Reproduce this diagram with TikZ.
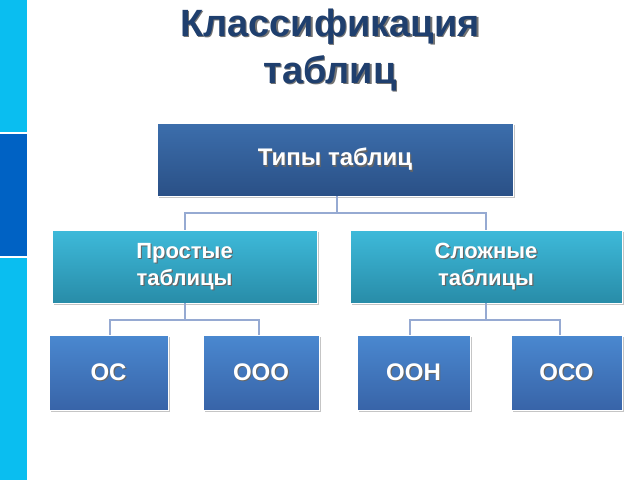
\documentclass[tikz,border=0pt]{standalone}
\usepackage{fontspec}
\setmainfont{Liberation Sans}
\usetikzlibrary{shadows}
\definecolor{titc}{RGB}{31,63,110}
\definecolor{topA}{RGB}{60,110,172}
\definecolor{topB}{RGB}{42,80,134}
\definecolor{midA}{RGB}{62,186,218}
\definecolor{midB}{RGB}{40,140,168}
\definecolor{botA}{RGB}{74,136,208}
\definecolor{botB}{RGB}{56,100,168}
\definecolor{stripL}{RGB}{10,190,240}
\definecolor{stripD}{RGB}{0,98,196}
\definecolor{lnkc}{RGB}{150,170,210}
\begin{document}
\begin{tikzpicture}[x=1pt,y=-1pt,
  box/.style={draw=white,line width=0.6pt,inner sep=0pt,drop shadow={shadow xshift=1.5pt,shadow yshift=-1.5pt,fill=black!45}},
  lnk/.style={draw=lnkc,line width=1.2pt}]
\useasboundingbox (0,0) rectangle (640,480);
\fill[white] (0,0) rectangle (640,480);
\fill[stripL] (0,0) rectangle (27,480);
\fill[stripD] (0,133) rectangle (27,257);
\fill[white] (0,132) rectangle (27,134);
\fill[white] (0,256) rectangle (27,258);
% title
\node[text=black!55,font=\bfseries\fontsize{38}{47}\selectfont,align=center] (tsh) at (331.5,51.5) {Классификация\\таблиц};
\node[text=titc,font=\bfseries\fontsize{38}{47}\selectfont,align=center] (title) at (330,50) {Классификация\\таблиц};
% boxes
\newcommand\mkbox[7]{%
 \node[box,minimum width=#3-#1,minimum height=#4-#2,top color=#5,bottom color=#6] (#7) at ({(#1+#3)/2},{(#2+#4)/2}) {};}
\mkbox{157}{123}{513}{196}{topA}{topB}{top}
\mkbox{52}{230}{317}{303}{midA}{midB}{ml}
\mkbox{350}{230}{622}{303}{midA}{midB}{mr}
\mkbox{49}{335}{168}{410}{botA}{botB}{b1}
\mkbox{203}{335}{319}{410}{botA}{botB}{b2}
\mkbox{357}{335}{470}{410}{botA}{botB}{b3}
\mkbox{511}{335}{622}{410}{botA}{botB}{b4}
% labels
\newcommand\lbl[3]{\node[text=black!60,font=\bfseries\fontsize{#3}{27}\selectfont,align=center] at ([shift={(1.2,1.2)}]#1.center) {#2};
 \node[text=white,font=\bfseries\fontsize{#3}{27}\selectfont,align=center] at (#1.center) {#2};}
\lbl{top}{Типы таблиц}{24}
\lbl{ml}{Простые\\таблицы}{22}
\lbl{mr}{Сложные\\таблицы}{22}
\lbl{b1}{ОС}{24}
\lbl{b2}{ООО}{24}
\lbl{b3}{ООН}{24}
\lbl{b4}{ОСО}{24}
% connectors
\coordinate (j0) at (337,213);
\coordinate (j1) at (185,320);
\coordinate (j2) at (486,320);
\draw[lnk] (top.south -| j0) -- (j0) -| (ml.north -| j1);
\draw[lnk] (j0) -| (mr.north -| j2);
\draw[lnk] (ml.south -| j1) -- (j1) -| (b1.north -| 110,0);
\draw[lnk] (j1) -| (b2.north -| 259,0);
\draw[lnk] (mr.south -| j2) -- (j2) -| (b3.north -| 410,0);
\draw[lnk] (j2) -| (b4.north -| 560,0);
\end{tikzpicture}
\end{document}
